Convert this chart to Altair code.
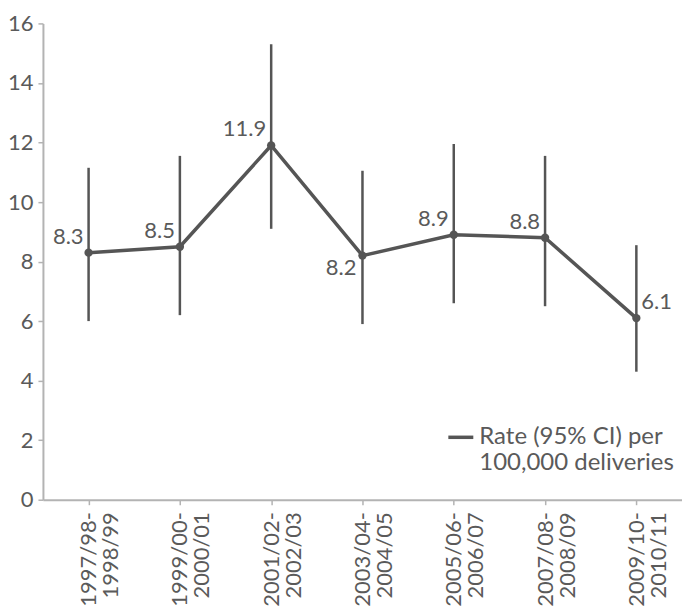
import altair as alt
import pandas as pd

periods = ["1997/98-1998/99", "1999/00-2000/01", "2001/02-2002/03", "2003/04-2004/05",
           "2005/06-2006/07", "2007/08-2008/09", "2009/10-2010/11"]
rate = [8.3, 8.5, 11.9, 8.2, 8.9, 8.8, 6.1]
lower = [6.0, 6.2, 9.1, 5.9, 6.6, 6.5, 4.3]
upper = [11.15, 11.55, 15.3, 11.05, 11.95, 11.55, 8.55]
series_name = "Rate (95% CI) per|100,000 deliveries"

df = pd.DataFrame({"period": periods, "rate": rate, "lower": lower, "upper": upper,
                   "series": [series_name] * len(periods)})
df["label"] = df["rate"].map(lambda v: f"{v:.1f}")

GREY = "#555555"
TEXT = "#5a5a5a"
FONT = "Lato"
FS = 22

x = alt.X("period:N", sort=periods, title=None,
          scale=alt.Scale(type="point", padding=0.5),
          axis=alt.Axis(labelAngle=-90, labelAlign="right", labelBaseline="middle",
                        labelExpr="[substring(datum.label,0,8), substring(datum.label,8)]",
                        labelLineHeight=22, labelPadding=7, tickSize=5))
y = alt.Y("rate:Q", title=None, scale=alt.Scale(domain=[0, 16], nice=False),
          axis=alt.Axis(values=list(range(0, 17, 2)), tickSize=5, labelPadding=5, grid=False))

base = alt.Chart(df)

bars = base.mark_rule(color=GREY, strokeWidth=2.5).encode(
    x=x, y=alt.Y("lower:Q"), y2="upper:Q")

line = base.mark_line(strokeWidth=3.5).encode(
    x=x, y=y,
    color=alt.Color("series:N", scale=alt.Scale(range=[GREY]),
                    legend=alt.Legend(title=None, orient="none", legendX=404, legendY=400,
                                      padding=0, symbolType="stroke", symbolSize=625,
                                      symbolStrokeWidth=3.5, labelOffset=4,
                                      labelExpr="split(datum.label, '|')",
                                      labelFontSize=24, labelFont=FONT, labelColor=TEXT,
                                      labelLimit=400, labelBaseline="middle")))

pts = base.mark_circle(size=70, color=GREY, opacity=1).encode(x=x, y=y)

left_above = ["1997/98-1998/99", "1999/00-2000/01", "2001/02-2002/03",
              "2005/06-2006/07", "2007/08-2008/09"]
lab_la = base.transform_filter(alt.FieldOneOfPredicate(field="period", oneOf=left_above)).mark_text(
    align="right", baseline="alphabetic", dx=-5, dy=-9, fontSize=FS, font=FONT, color=TEXT
).encode(x=x, y=y, text="label:N")
lab_lb = base.transform_filter(alt.datum.period == "2003/04-2004/05").mark_text(
    align="right", baseline="top", dx=-6, dy=2, fontSize=FS, font=FONT, color=TEXT
).encode(x=x, y=y, text="label:N")
lab_ra = base.transform_filter(alt.datum.period == "2009/10-2010/11").mark_text(
    align="left", baseline="alphabetic", dx=5, dy=-9, fontSize=FS, font=FONT, color=TEXT
).encode(x=x, y=y, text="label:N")

chart = alt.layer(bars, line, pts, lab_la, lab_lb, lab_ra).properties(
    width=640, height=477,
    autosize=alt.AutoSizeParams(type="none"),
    padding={"left": 43, "top": 23, "right": 0, "bottom": 108},
).configure_view(stroke=None).configure_axis(
    domainColor="#b3b3b3", domainWidth=2, tickColor="#b3b3b3", tickWidth=1.5,
    labelFont=FONT, labelFontSize=FS, labelColor=TEXT
)

chart.save("out.html", embed_options={"renderer": "svg", "actions": False})
